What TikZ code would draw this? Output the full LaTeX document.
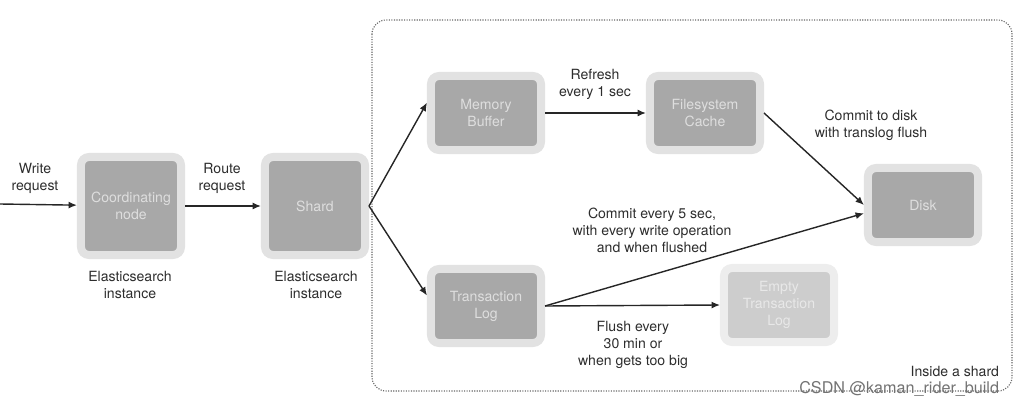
\documentclass[tikz,border=0pt]{standalone}
\usepackage{fontspec}
\setmainfont{TeX Gyre Heros}
\usetikzlibrary{arrows.meta}
\definecolor{ringgray}{RGB}{226,226,226}
\definecolor{coregray}{RGB}{168,168,168}
\definecolor{coretext}{RGB}{222,222,222}
\definecolor{palering}{RGB}{237,237,237}
\definecolor{palecore}{RGB}{205,205,205}
\definecolor{paletext}{RGB}{232,232,232}
\definecolor{labeltext}{RGB}{45,45,45}
\definecolor{framegray}{RGB}{105,105,105}

\begin{document}
\begin{tikzpicture}[
			x=0.025cm, y=-0.025cm,
			font=\fontsize{10}{12}\selectfont,
			stage/.style={draw=ringgray, line width=0.2cm, fill=coregray, rounded corners=0.2cm, text=coretext, align=center, minimum width=2.75cm, minimum height=1.85cm, inner sep=2pt},
			instance/.style={stage, minimum width=2.5cm, minimum height=2.45cm},
			emptystage/.style={stage, draw=palering, fill=palecore, text=paletext},
			note/.style={text=labeltext, align=center},
			flow/.style={draw=black!85, line width=1pt, -{Latex[length=6pt,width=5pt]}}
			]
			\useasboundingbox (0,0) rectangle (1022,406);
			
			% Cornice tratteggiata (interno dello shard)
			\draw[framegray, densely dotted, line width=0.8pt, rounded corners=0.35cm] (372,20) rectangle (1012,391);
			\node[note, anchor=east] (inside) at (1004,371) {Inside a shard};
			
			% Istanze Elasticsearch
			\coordinate (entry) at (0,204);
			\node[instance] (coord) at (131,206) {Coordinating\\node};
			\node[instance] (shard) at (315,206) {Shard};
			\node[note] (coordinst) at (130,285) {Elasticsearch\\instance};
			\node[note] (shardinst) at (316,285) {Elasticsearch\\instance};
			
			% Componenti dello shard
			\node[stage] (buffer) at (486,113) {Memory\\Buffer};
			\node[stage] (cache) at (705,113) {Filesystem\\Cache};
			\node[stage] (disk) at (923,205) {Disk};
			\node[stage] (translog) at (486,306) {Transaction\\Log};
			\node[emptystage] (emptylog) at (779,305) {Empty\\Transaction\\Log};
			
			% Flussi
			\draw[flow] (entry) -- (coord);
			\node[note] (writelbl) at (35,178) {Write\\request};
			\draw[flow] (coord) -- (shard);
			\node[note] (routelbl) at (222,178) {Route\\request};
			\draw[flow] (shard.east) -- (buffer.170);
			\draw[flow] (shard.east) -- (translog.170);
			\draw[flow] (buffer) -- (cache);
			\node[note] (refreshlbl) at (595,84) {Refresh\\every 1 sec};
			\draw[flow] (cache.east) -- (disk.west);
			\node[note] (commitlbl) at (871,125) {Commit to disk\\with translog flush};
			\draw[flow] (translog.east) -- (disk.188);
			\node[note] (fivesec) at (652,230) {Commit every 5 sec,\\with every write operation\\and when flushed};
			\draw[flow] (translog.east) -- (emptylog.west);
			\node[note] (flushlbl) at (633,345) {Flush every\\30 min or\\when gets too big};
			
			% Filigrana
			\node[text=black!55, anchor=east, font=\fontsize{11.5}{12}\selectfont] (mark) at (1004,389) {CSDN @kaman\_rider\_build};
			
		\end{tikzpicture}
\end{document}
